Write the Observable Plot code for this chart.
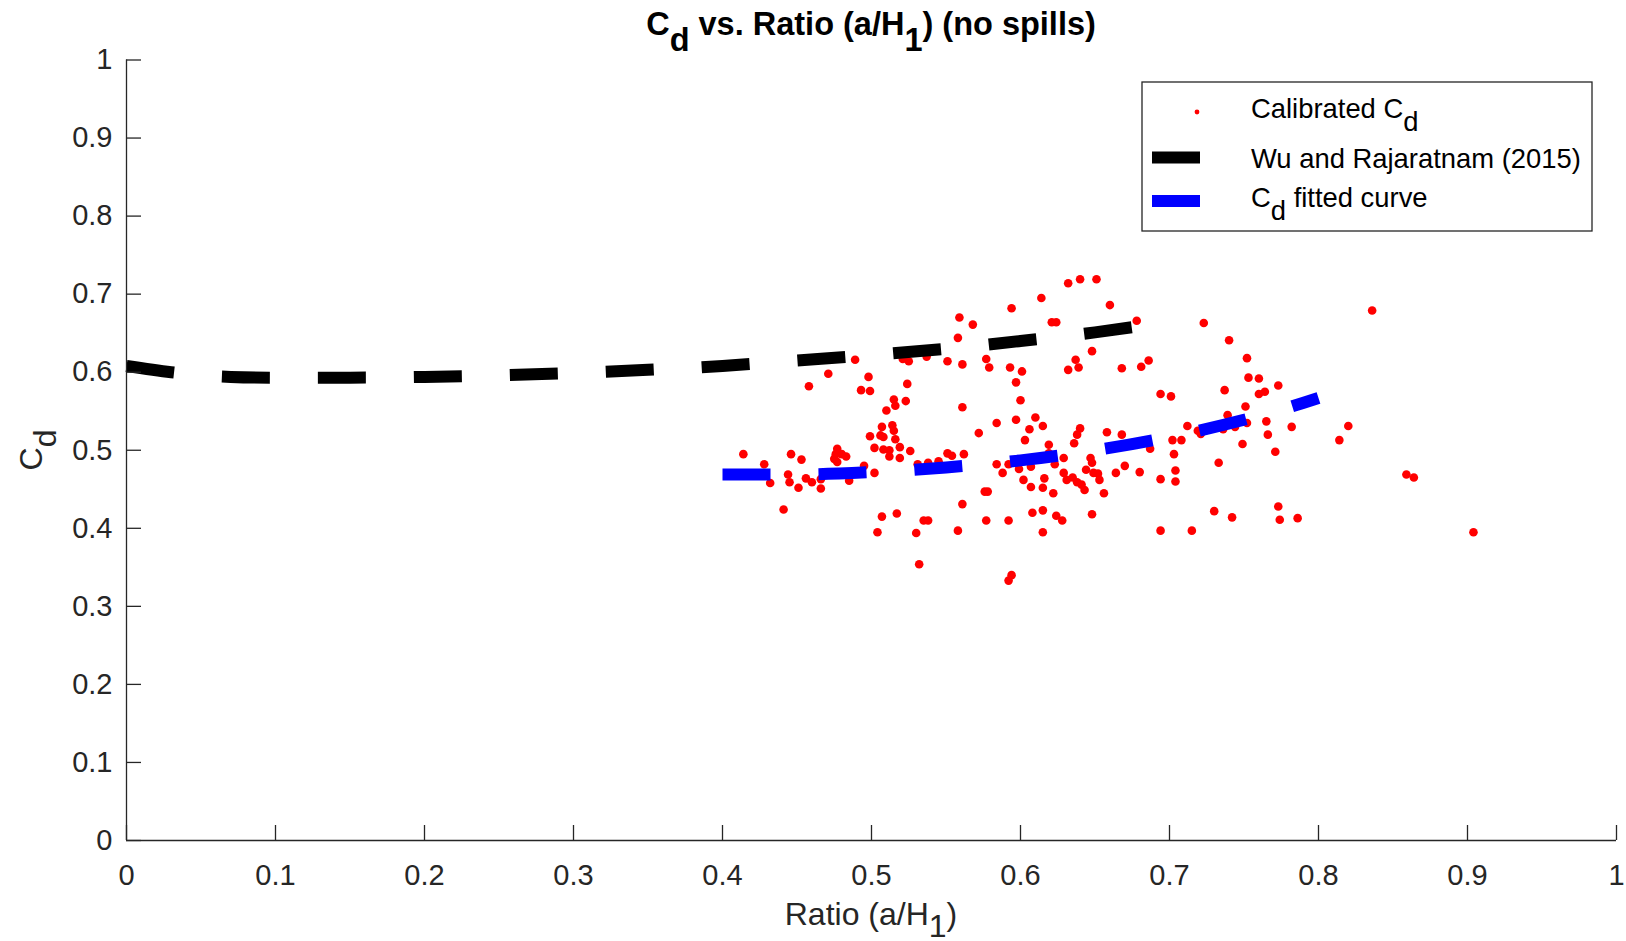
<!DOCTYPE html>
<html><head><meta charset="utf-8">
<script src="https://cdn.jsdelivr.net/npm/d3@7"></script>
<script src="https://cdn.jsdelivr.net/npm/@observablehq/plot@0.6"></script>
<style>html,body{margin:0;padding:0;background:#fff;overflow:hidden} svg{display:block}</style>
</head><body><div id="chart"></div>
<script>
// Calibrated Cd points (ratio a/H1, Cd)
const calibRatio = [
0.559,0.558,0.489,0.521,0.525,0.537,0.551,0.561,0.471,0.458,0.498,0.493,0.499,0.524,0.515,0.516,0.523,0.510,0.561,0.507,
0.514,0.515,0.499,0.506,0.508,0.516,0.502,0.508,0.512,0.519,0.512,0.519,0.526,0.477,0.476,0.480,0.483,0.475,0.477,0.495,
0.502,0.485,0.466,0.466,0.414,0.428,0.432,0.446,0.453,0.444,0.445,0.451,0.456,0.460,0.441,0.507,0.517,0.504,0.530,0.535,
0.538,0.532,0.551,0.554,0.531,0.538,0.545,0.558,0.561,0.562,0.568,0.594,0.614,0.632,0.640,0.651,0.660,0.621,0.624,0.678,
0.577,0.579,0.593,0.601,0.648,0.637,0.639,0.632,0.668,0.681,0.686,0.597,0.600,0.694,0.701,0.584,0.572,0.597,0.610,0.615,
0.606,0.603,0.640,0.638,0.636,0.619,0.658,0.668,0.687,0.712,0.719,0.702,0.708,0.703,0.704,0.704,0.694,0.680,0.670,0.664,
0.584,0.592,0.588,0.599,0.607,0.602,0.607,0.615,0.616,0.622,0.623,0.629,0.619,0.629,0.631,0.635,0.638,0.641,0.643,0.644,
0.647,0.648,0.649,0.652,0.653,0.656,0.576,0.578,0.577,0.592,0.608,0.615,0.624,0.628,0.648,0.615,0.694,0.715,0.592,0.594,
0.723,0.740,0.752,0.753,0.760,0.773,0.737,0.760,0.764,0.751,0.721,0.739,0.744,0.736,0.752,0.765,0.766,0.749,0.771,0.782,
0.733,0.820,0.814,0.836,0.859,0.864,0.904,0.730,0.742,0.773,0.774,0.786
];
const calibCd = [
0.670,0.644,0.616,0.617,0.614,0.620,0.614,0.610,0.598,0.582,0.594,0.577,0.576,0.585,0.565,0.557,0.563,0.551,0.555,0.530,
0.532,0.525,0.518,0.519,0.517,0.514,0.503,0.501,0.500,0.504,0.492,0.490,0.499,0.502,0.495,0.495,0.492,0.489,0.485,0.480,
0.471,0.461,0.463,0.451,0.495,0.482,0.458,0.495,0.488,0.469,0.459,0.452,0.464,0.459,0.424,0.415,0.419,0.395,0.394,0.410,
0.410,0.354,0.496,0.493,0.482,0.484,0.486,0.397,0.431,0.495,0.661,0.682,0.695,0.714,0.719,0.719,0.686,0.664,0.664,0.666,
0.617,0.606,0.606,0.601,0.627,0.616,0.606,0.603,0.605,0.607,0.615,0.587,0.564,0.572,0.569,0.535,0.522,0.539,0.542,0.531,
0.527,0.513,0.528,0.520,0.509,0.507,0.523,0.520,0.502,0.531,0.525,0.513,0.513,0.495,0.474,0.460,0.463,0.472,0.480,0.471,
0.482,0.482,0.471,0.476,0.479,0.462,0.453,0.452,0.464,0.445,0.482,0.490,0.496,0.471,0.462,0.465,0.459,0.456,0.449,0.475,
0.490,0.484,0.471,0.470,0.462,0.445,0.447,0.447,0.410,0.410,0.420,0.423,0.416,0.410,0.418,0.395,0.397,0.397,0.333,0.340,
0.663,0.641,0.618,0.593,0.592,0.583,0.577,0.572,0.575,0.556,0.521,0.545,0.530,0.527,0.535,0.537,0.520,0.508,0.498,0.530,
0.484,0.531,0.513,0.679,0.469,0.465,0.395,0.422,0.414,0.428,0.411,0.413
];
// Wu and Rajaratnam (2015)
const wuRatio = [0, 0.03, 0.07, 0.10, 0.15, 0.20, 0.25, 0.30, 0.35, 0.40, 0.45, 0.50, 0.55, 0.60, 0.65, 0.68];
const wuCd    = [0.608, 0.600, 0.594, 0.593, 0.593, 0.594, 0.596, 0.599, 0.603, 0.608, 0.615, 0.622, 0.630, 0.640, 0.651, 0.659];
// Cd fitted curve
const fitRatio = [0.40, 0.45, 0.50, 0.55, 0.60, 0.65, 0.70, 0.75, 0.775, 0.80];
const fitCd    = [0.469, 0.469, 0.472, 0.478, 0.487, 0.500, 0.517, 0.539, 0.552, 0.567];
// Ticks
const tickValues = [0, 0.1, 0.2, 0.3, 0.4, 0.5, 0.6, 0.7, 0.8, 0.9, 1];
const tickLabels = ["0", "0.1", "0.2", "0.3", "0.4", "0.5", "0.6", "0.7", "0.8", "0.9", "1"];

const calib = calibRatio.map((r, i) => ({ratio: r, cd: calibCd[i]}));
const wu = wuRatio.map((r, i) => ({ratio: r, cd: wuCd[i]}));
const fit = fitRatio.map((r, i) => ({ratio: r, cd: fitCd[i]}));
const fmt = d => tickLabels[tickValues.indexOf(d)];

const axisColor = "#262626";
const FONT = "'Liberation Sans', Arial, Helvetica, sans-serif";

const chart = Plot.plot({
  width: 1626, height: 941,
  marginLeft: 126, marginRight: 10, marginTop: 59.5, marginBottom: 101,
  style: {fontFamily: FONT, color: axisColor, background: "#fff", overflow: "visible"},
  x: {domain: [0, 1]},
  y: {domain: [0, 1]},
  marks: [
    Plot.dot(calib, {x: "ratio", y: "cd", r: 4.3, fill: "#ff0000", stroke: null}),
    Plot.line(wu, {x: "ratio", y: "cd", stroke: "#000", strokeWidth: 12, strokeDasharray: "48,48", strokeLinecap: "butt", curve: "monotone-x"}),
    Plot.line(fit, {x: "ratio", y: "cd", stroke: "#0000ff", strokeWidth: 12, strokeDasharray: "48,48", strokeLinecap: "butt", curve: "monotone-x"}),
    Plot.ruleY([0], {stroke: axisColor, strokeWidth: 1.3}),
    Plot.ruleX([0], {stroke: axisColor, strokeWidth: 1.3}),
    Plot.axisX(tickValues, {anchor: "bottom", tickSize: 15, dy: -15, tickPadding: 24, tickFormat: fmt, fontSize: 29, label: null, stroke: axisColor, strokeWidth: 1.3}),
    Plot.axisY(tickValues, {anchor: "left", tickSize: 15, dx: 15, tickPadding: 14, tickFormat: fmt, fontSize: 29, label: null, stroke: axisColor, strokeWidth: 1.3})
  ]
});
document.getElementById("chart").appendChild(chart);

const svg = d3.select(chart);
function richText(g, parts, shift) {
  let down = false;
  parts.forEach(([t, sub]) => {
    const ts = g.append("tspan").text(t);
    if (sub && !down) { ts.attr("dy", shift + "em"); down = true; }
    else if (!sub && down) { ts.attr("dy", (-shift) + "em"); down = false; }
  });
  return g;
}
// Title
richText(svg.append("text").attr("x", 871).attr("y", 35).attr("text-anchor", "middle")
  .attr("font-weight", "bold").attr("font-size", 32.5).attr("fill", "#000").attr("font-family", FONT)
  .style("white-space", "pre"),
  [["C", false], ["d", true], [" vs. Ratio (a/H", false], ["1", true], [") (no spills)", false]], 0.5);
// X label
richText(svg.append("text").attr("x", 871).attr("y", 925).attr("text-anchor", "middle")
  .attr("font-size", 32).attr("fill", axisColor).attr("font-family", FONT).style("white-space", "pre"),
  [["Ratio (a/H", false], ["1", true], [")", false]], 0.36);
// Y label
richText(svg.append("text").attr("transform", "translate(42,450) rotate(-90)").attr("text-anchor", "middle")
  .attr("font-size", 32).attr("fill", axisColor).attr("font-family", FONT).style("white-space", "pre"),
  [["C", false], ["d", true]], 0.45);

// Legend
const lg = svg.append("g").attr("text-anchor", "start");
lg.append("rect").attr("x", 1142).attr("y", 82).attr("width", 450).attr("height", 149)
  .attr("fill", "#fff").attr("stroke", axisColor).attr("stroke-width", 1.3);
lg.append("circle").attr("cx", 1197).attr("cy", 112).attr("r", 2.4).attr("fill", "#ff0000");
lg.append("line").attr("x1", 1152).attr("x2", 1200).attr("y1", 157.5).attr("y2", 157.5).attr("stroke", "#000").attr("stroke-width", 12);
lg.append("line").attr("x1", 1152).attr("x2", 1200).attr("y1", 201).attr("y2", 201).attr("stroke", "#0000ff").attr("stroke-width", 12);
const legendItems = [
  [[["Calibrated C", false], ["d", true]], 117.7],
  [[["Wu and Rajaratnam (2015)", false]], 167.7],
  [[["C", false], ["d", true], [" fitted curve", false]], 206.7]
];
legendItems.forEach(([parts, y]) => {
  richText(lg.append("text").attr("x", 1251).attr("y", y).attr("text-anchor", "start").attr("font-size", 27.4).attr("fill", "#000")
    .attr("font-family", FONT).style("white-space", "pre"), parts, 0.48);
});
</script>
</body></html>
